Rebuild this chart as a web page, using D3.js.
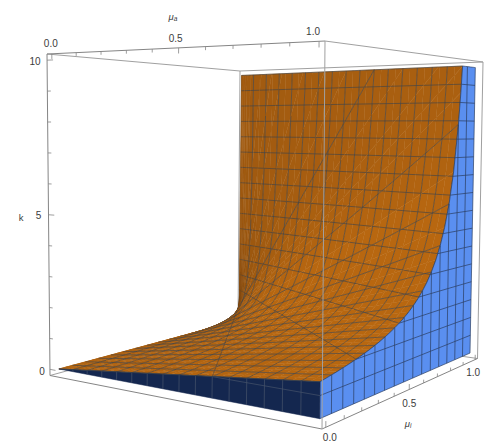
<!DOCTYPE html>
<html><head><meta charset="utf-8">
<script src="https://cdn.jsdelivr.net/npm/d3@7"></script>
<style>html,body{margin:0;background:#fff}svg{display:block}text{font-family:"Liberation Sans",Arial,sans-serif;fill:#3c3c3c}</style>
</head><body><svg id="c" width="503" height="448"></svg>
<script>
// ---- values ----
const muATickValues=[0,0.1,0.2,0.3,0.4,0.5,0.6,0.7,0.8,0.9,1];
const muITickValues=[0,0.1,0.2,0.3,0.4,0.5,0.6,0.7,0.8,0.9,1];
const kTickValues=[0,1,2,3,4,5,6,7,8,9,10];
const muATickLabels=["0.0","0.5","1.0"];
const muITickLabels=["0.0","0.5","1.0"];
const kTickLabels=["0","5","10"];
// sampling of mu_a across the surface, mesh lines every 1/16
const muASamples=[0,0.002,0.005,0.01,0.02,0.03,0.045,0.0625,0.09375,0.125,0.15625,0.1875,0.21875,0.25,0.28125,0.3125,0.34375,0.375,0.40625,0.4375,0.46875,0.5,0.53125,0.5625,0.59375,0.625,0.65625,0.6875,0.71875,0.75,0.78125,0.8125,0.84375,0.875,0.90625,0.9375,0.96875,1];
const muAMesh=[0.0625,0.125,0.1875,0.25,0.3125,0.375,0.4375,0.5,0.5625,0.625,0.6875,0.75,0.8125,0.875,0.9375];
const muIMesh=[0.0625,0.125,0.1875,0.25,0.3125,0.375,0.4375,0.5,0.5625,0.625,0.6875,0.75,0.8125,0.875,0.9375];
const kMesh=[0.625,1.25,1.875,2.5,3.125,3.75,4.375,5,5.625,6.25,6.875,7.5,8.125,8.75,9.375];
// height of the surface along its mu_a = 1 edge (the top of the blue wall)
const muIProfile=[0,0.03125,0.0625,0.09375,0.125,0.15625,0.1875,0.21875,0.25,0.28125,0.3125,0.34375,0.375,0.40625,0.4375,0.46875,0.5,0.53125,0.5625,0.59375,0.625,0.65625,0.6875,0.71875,0.75,0.78125,0.8125,0.84375,0.875,0.89,0.9,0.91,0.925,0.9375,0.95,0.96,0.97,0.98,0.985,0.99,0.995,0.998,1];
const kProfile=[1,1.032,1.067,1.103,1.143,1.185,1.231,1.28,1.333,1.391,1.455,1.524,1.6,1.684,1.778,1.882,2,2.133,2.286,2.462,2.667,2.909,3.2,3.556,4,4.571,5.333,6.4,8,9.091,10,11.11,13.33,16,20,25,33.3,50,66.7,100,200,500,5000];

// ---- scales ----
const sA=d3.scaleLinear().domain([-0.02,1.02]).range([0,1]);
const sI=d3.scaleLinear().domain([-0.02,1.02]).range([0,1]);
const sK=d3.scaleLinear().domain([-0.2,10.2]).range([0,1]);
const edge=d3.scaleLinear().domain(muIProfile).range(kProfile);
const K=(a,i)=>a*edge(i);

function quadMap(p){
  const [x0,y0]=p[0],[x1,y1]=p[1],[x2,y2]=p[2],[x3,y3]=p[3];
  const dx1=x1-x2,dx2=x3-x2,sx=x0-x1+x2-x3,dy1=y1-y2,dy2=y3-y2,sy=y0-y1+y2-y3;
  const den=dx1*dy2-dx2*dy1,g=(sx*dy2-dx2*sy)/den,h=(dx1*sy-sx*dy1)/den;
  const a=x1-x0+g*x1,b=x3-x0+h*x3,d=y1-y0+g*y1,e=y3-y0+h*y3;
  return (u,v)=>{const w=g*u+h*v+1;return [(a*u+b*v+x0)/w,(d*u+e*v+y0)/w];};
}
// corners: left (mu_a 0, mu_i 0), front (1,0), right (1,1), back (0,1)
const floorMap=quadMap([[50,375.5],[322,429],[477.5,358.5],[238,324]]);
const roofMap=quadMap([[47,54],[325,41],[483,62],[240,71]]);
function projN(u,v,w){const b=floorMap(u,v),t=roofMap(u,v);return [b[0]+(t[0]-b[0])*w,b[1]+(t[1]-b[1])*w];}
const proj=(a,i,k)=>projN(sA(a),sI(i),sK(k));

const svg=d3.select("#c");
const line=d3.line();
const rnd=p=>[+p[0].toFixed(2),+p[1].toFixed(2)];
const boxStroke="#a0a0a0";
function boxEdge(c1,c2,col,w){
  const a=projN(...c1),b=projN(...c2);
  svg.append("line").attr("x1",a[0]).attr("y1",a[1]).attr("x2",b[0]).attr("y2",b[1])
    .attr("stroke",col||boxStroke).attr("stroke-width",w||1);
}
// back box edges
boxEdge([0,0,0],[0,1,0]);boxEdge([0,1,0],[1,1,0]);
boxEdge([0,1,0],[0,1,1]);
boxEdge([0,0,1],[0,1,1]);boxEdge([0,1,1],[1,1,1]);

// ---- surface, painted far to near ----
const dark=d3.rgb(88,50,14),bright=d3.rgb(184,103,16);
const shade=d3.interpolateRgb(dark,bright);
const L=[0.32,-0.62,0.72];
function cellColor(a0,a1,i0,i1){
  const am=(a0+a1)/2,im=(i0+i1)/2;
  const dA=(edge(im))/10;
  const dI=am*(edge(i1)-edge(i0))/(i1-i0)/10;
  const n=[-dA,-dI,1],l=Math.hypot(...n);
  const s=Math.max(0,(n[0]*L[0]+n[1]*L[1]+n[2]*L[2])/l);
  return shade(Math.min(1,s/0.76));
}
function clipTop(poly,top){
  const out=[];
  poly.forEach((p,j)=>{
    const q=poly[(j+1)%poly.length];
    if(p[2]<=top)out.push(p);
    if((p[2]<=top)!==(q[2]<=top)){
      const t=(top-p[2])/(q[2]-p[2]);
      out.push([p[0]+(q[0]-p[0])*t,p[1]+(q[1]-p[1])*t,top]);
    }
  });
  return out;
}
const has=(arr,v)=>arr.some(x=>Math.abs(x-v)<1e-9);
const meshStroke="#37414d";
const surf=svg.append("g");
function segClip(p,q,top){
  if(p[2]>top&&q[2]>top)return null;
  const cut=(a,b)=>{const t=(top-a[2])/(b[2]-a[2]);return [a[0]+(b[0]-a[0])*t,a[1]+(b[1]-a[1])*t,top];};
  if(p[2]>top)p=cut(p,q);else if(q[2]>top)q=cut(q,p);
  return [p,q];
}
for(let r=muIProfile.length-2;r>=0;r--){
  const i0=muIProfile[r],i1=muIProfile[r+1];
  const segs=[];
  for(let c=0;c<muASamples.length-1;c++){
    const a0=muASamples[c],a1=muASamples[c+1];
    const poly=clipTop([[a0,i0,K(a0,i0)],[a1,i0,K(a1,i0)],[a1,i1,K(a1,i1)],[a0,i1,K(a0,i1)]],10);
    if(poly.length<3)continue;
    const col=cellColor(a0,a1,i0,i1);
    surf.append("path").attr("d",line(poly.map(p=>rnd(proj(...p))))+"Z")
      .attr("fill",col).attr("stroke",col).attr("stroke-width",0.45);
    const add=(p,q)=>{const s=segClip(p,q,10);if(s)segs.push(s);};
    if(has(muAMesh,a1)||a1===1)add([a1,i0,K(a1,i0)],[a1,i1,K(a1,i1)]);
    if(has(muIMesh,i1))add([a0,i1,K(a0,i1)],[a1,i1,K(a1,i1)]);
    // constant-k mesh lines and the k = 10 rim crossing this cell
    kMesh.concat([10]).forEach(lv=>{
      const corners=[[a0,i0],[a1,i0],[a1,i1],[a0,i1]].map(p=>[p[0],p[1],K(p[0],p[1])]);
      const hits=[];
      corners.forEach((p,j)=>{
        const q=corners[(j+1)%4];
        if((p[2]<lv)!==(q[2]<lv)){const t=(lv-p[2])/(q[2]-p[2]);hits.push([p[0]+(q[0]-p[0])*t,p[1]+(q[1]-p[1])*t,lv]);}
      });
      if(hits.length>=2)segs.push(hits.slice(0,2));
    });
  }
  if(segs.length){
    surf.append("path").attr("fill","none").attr("stroke",meshStroke).attr("stroke-opacity",0.78).attr("stroke-width",0.75)
      .attr("d",segs.map(s=>line(s.map(p=>rnd(proj(...p))))).join(""));
  }
}

// ---- blue wall at mu_a = 1 ----
const blue="#5a8ff0",blueLine="#2b3f63";
const wallI=muIProfile;
const wallTop=wallI.map(i=>[1,i,Math.min(10,edge(i))]);
svg.append("path").attr("fill",blue).attr("stroke",blueLine).attr("stroke-width",0.7)
  .attr("d",line(wallTop.concat([[1,1,0],[1,0,0]]).map(p=>rnd(proj(...p))))+"Z");
const blueMesh=svg.append("g").attr("fill","none").attr("stroke",blueLine).attr("stroke-width",0.8).attr("stroke-opacity",0.9);
muIMesh.forEach(i=>blueMesh.append("path").attr("d",line([proj(1,i,0),proj(1,i,Math.min(10,edge(i)))].map(rnd))));
kMesh.forEach(k=>blueMesh.append("path").attr("d",line([proj(1,k<kProfile[0]?0:edge.invert(k),k),proj(1,1,k)].map(rnd))));

// ---- dark wall at mu_i = 0 ----
const navy="#14274f",navyLine="#46536a";
svg.append("path").attr("fill",navy).attr("stroke",navy).attr("stroke-width",0.5)
  .attr("d",line([[0,0,0],[1,0,K(1,0)],[1,0,0]].map(p=>rnd(proj(...p))))+"Z");
const navyMesh=svg.append("g").attr("fill","none").attr("stroke",navyLine).attr("stroke-width",0.7);
muAMesh.forEach(a=>navyMesh.append("path").attr("d",line([proj(a,0,0),proj(a,0,K(a,0))].map(rnd))));
kMesh.filter(k=>k<K(1,0)).forEach(k=>navyMesh.append("path").attr("d",line([proj(k/K(1,0),0,k),proj(1,0,k)].map(rnd))));
svg.append("path").attr("fill","none").attr("stroke","#37414d").attr("stroke-width",0.8)
  .attr("d",line([[0,0,0],[1,0,K(1,0)]].map(p=>rnd(proj(...p)))));

// ---- front box edges, axes ----
const axisStroke="#858585";
boxEdge([0,0,1],[1,0,1],axisStroke);
boxEdge([1,0,1],[1,1,1]);
boxEdge([0,0,0],[0,0,1],axisStroke);
boxEdge([1,1,0],[1,1,1]);
boxEdge([0,0,0],[1,0,0],axisStroke);
boxEdge([1,0,0],[1,1,0],axisStroke);
boxEdge([1,0,0],[1,0,1]);

const ticks=svg.append("g").attr("stroke",axisStroke).attr("stroke-width",0.8);
const tick=(a,b)=>ticks.append("line").attr("x1",a[0]).attr("y1",a[1]).attr("x2",b[0]).attr("y2",b[1]);
muATickValues.forEach(a=>{const maj=has([0,0.5,1],a);
  tick(projN(sA(a),0,1),projN(sA(a),0,1-(maj?0.016:0.01)));});
muITickValues.forEach(i=>{const maj=has([0,0.5,1],i);
  tick(projN(1,sI(i),0),projN(1,sI(i),maj?0.016:0.01));});
kTickValues.forEach(k=>{const maj=has([0,5,10],k);
  tick(projN(0,0,sK(k)),projN(maj?0.024:0.014,0,sK(k)));});

function label(p,t,size,style){
  const el=svg.append("text").attr("x",p[0]).attr("y",p[1]).attr("text-anchor","middle")
    .attr("dominant-baseline","central").attr("font-size",size).text(t);
  if(style)el.attr("font-style",style);
  return el;
}
const aLabelShift=[[-1,-10],[-3,-9],[-6,-10]];
const iLabelShift=[[4,10],[0,14],[-2,13]];
const kLabelShift=[[-8,2],[-10,1],[-12,1]];
[0,0.5,1].forEach((a,j)=>{const p=projN(sA(a),0,1);label([p[0]+aLabelShift[j][0],p[1]+aLabelShift[j][1]],muATickLabels[j],10);});
[0,0.5,1].forEach((i,j)=>{const p=projN(1,sI(i),0);label([p[0]+iLabelShift[j][0],p[1]+iLabelShift[j][1]],muITickLabels[j],10);});
[0,5,10].forEach((k,j)=>{const p=projN(0,0,sK(k));label([p[0]+kLabelShift[j][0],p[1]+kLabelShift[j][1]],kTickLabels[j],10);});
label([21,217],"k",9.5);
function sub(p,a,b){
  const el=svg.append("text").attr("x",p[0]).attr("y",p[1]).attr("text-anchor","middle")
    .attr("dominant-baseline","central").attr("font-size",9.5).attr("font-style","italic");
  el.append("tspan").text(a);
  el.append("tspan").attr("font-size",6.5).attr("dy",2).text(b);
}
sub([173,16],"μ","a");
sub([408,423],"μ","i");
</script></body></html>
